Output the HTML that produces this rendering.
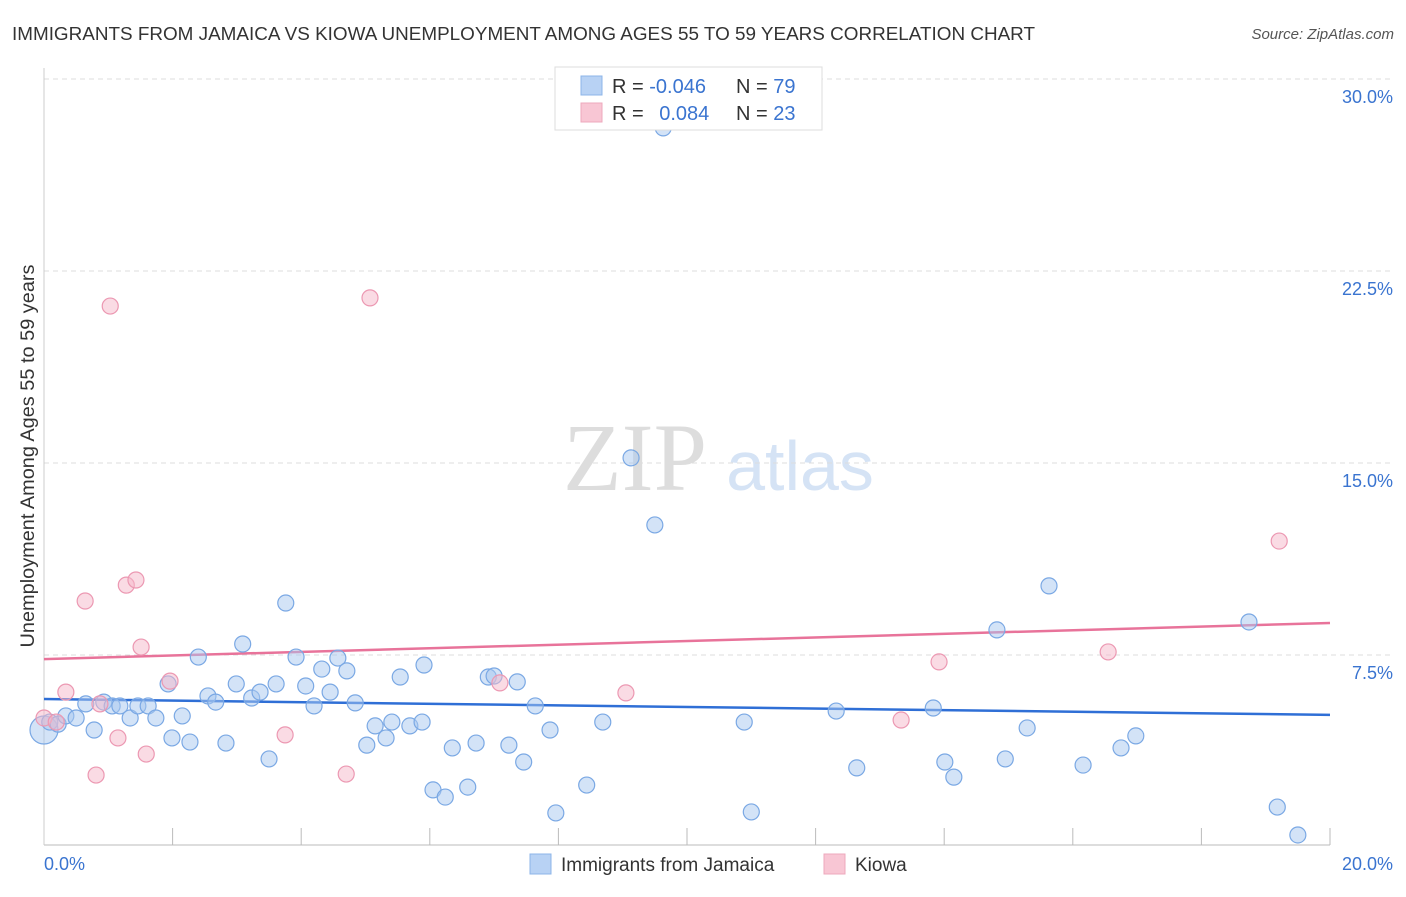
<!DOCTYPE html>
<html><head><meta charset="utf-8"><style>
body{margin:0;background:#fff;font-family:"Liberation Sans",sans-serif;}
svg text{font-family:"Liberation Sans",sans-serif;}
</style></head><body>
<svg id="c" width="1406" height="892" xmlns="http://www.w3.org/2000/svg">
<text x="12" y="40" font-size="18.5" fill="#333" textLength="1023" lengthAdjust="spacingAndGlyphs">IMMIGRANTS FROM JAMAICA VS KIOWA UNEMPLOYMENT AMONG AGES 55 TO 59 YEARS CORRELATION CHART</text>
<text x="1394" y="39" font-size="15" fill="#555" font-style="italic" text-anchor="end">Source: ZipAtlas.com</text>
<text x="34" y="456" font-size="19.5" fill="#333" text-anchor="middle" textLength="383" lengthAdjust="spacingAndGlyphs" transform="rotate(-90 34 456)">Unemployment Among Ages 55 to 59 years</text>
<g><text x="635" y="490" font-size="96" fill="#ddd" text-anchor="middle" style="font-family:'Liberation Serif',serif">ZIP</text><text x="800" y="490" font-size="70" fill="#d5e3f5" text-anchor="middle">atlas</text></g>
<g id="grid"></g><g id="axes"></g><g id="lines"></g><g id="pts"></g>
<g>
<rect x="555" y="67" width="267" height="63" fill="#fff" stroke="#ddd"/>
<rect x="581" y="76" width="21" height="19" fill="#b8d2f4" stroke="#8cb4e8"/>
<rect x="581" y="103" width="21" height="19" fill="#f8c6d4" stroke="#eea8bc"/>
<text x="612" y="93" font-size="20" fill="#333">R = <tspan fill="#3a74d0">-0.046</tspan></text>
<text x="736" y="93" font-size="20" fill="#333">N = <tspan fill="#3a74d0">79</tspan></text>
<text x="612" y="120" font-size="20" fill="#333">R = <tspan fill="#3a74d0" dx="10">0.084</tspan></text>
<text x="736" y="120" font-size="20" fill="#333">N = <tspan fill="#3a74d0">23</tspan></text>
</g>
<g>
<rect x="530" y="854" width="21" height="20" fill="#b8d2f4" stroke="#8cb4e8"/>
<text x="561" y="871" font-size="19" fill="#333">Immigrants from Jamaica</text>
<rect x="824" y="854" width="21" height="20" fill="#f8c6d4" stroke="#eea8bc"/>
<text x="855" y="871" font-size="19" fill="#333">Kiowa</text>
</g>
</svg>
<script>
const blueX=[0,0.09,0.22,0.34,0.50,0.65,0.78,0.93,1.06,1.18,1.34,1.46,1.62,1.74,1.93,1.99,2.15,2.27,2.40,2.55,2.67,2.83,2.99,3.09,3.23,3.36,3.50,3.61,3.76,3.92,4.07,4.20,4.32,4.45,4.57,4.71,4.84,5.02,5.15,5.32,5.41,5.54,5.69,5.88,5.91,6.05,6.24,6.35,6.59,6.72,6.91,7.00,7.23,7.36,7.46,7.64,7.87,7.96,8.44,8.69,9.13,9.50,9.63,10.89,11.00,12.32,12.64,13.83,14.01,14.15,14.82,14.95,15.29,15.63,16.16,16.75,16.98,18.74,19.18,19.50];
const blueY=[4.57,4.88,4.80,5.12,5.04,5.59,4.57,5.66,5.51,5.51,5.04,5.51,5.51,5.04,6.37,4.26,5.12,4.10,7.42,5.90,5.66,4.06,6.37,7.93,5.82,6.05,3.44,6.37,9.53,7.42,6.29,5.51,6.95,6.05,7.38,6.88,5.63,3.98,4.73,4.26,4.88,6.64,4.73,4.88,7.11,2.23,1.95,3.87,2.34,4.06,6.64,6.68,3.98,6.45,3.32,5.51,4.57,1.33,2.42,4.88,15.2,12.58,28.09,4.88,1.37,5.31,3.09,5.43,3.32,2.73,8.48,3.44,4.65,10.20,3.20,3.87,4.34,8.79,1.56,0.47];
const pinkX=[0,0.19,0.34,0.64,0.81,0.87,1.03,1.15,1.28,1.43,1.51,1.59,1.96,3.75,4.70,5.07,7.09,9.05,13.33,13.92,16.55,19.21];
const pinkY=[5.04,4.88,6.05,9.61,2.81,5.59,21.13,4.26,10.23,10.43,7.81,3.63,6.48,4.38,2.85,21.45,6.41,6.02,4.96,7.23,7.62,11.95];
const blueTrend=[5.78,5.16];
const pinkTrend=[7.34,8.75];
const yTicks=[7.5,15,22.5,30];
const yTickLabels=["7.5%","15.0%","22.5%","30.0%"];
const xTickLabels=["0.0%","20.0%"];
const NS="http://www.w3.org/2000/svg";
const X=v=>44+v/20*1286, Y=v=>847-v/7.5*192;
function mk(t,a,p){const e=document.createElementNS(NS,t);for(const k in a)e.setAttribute(k,a[k]);document.getElementById(p).appendChild(e);return e;}
yTicks.forEach((t,i)=>{
 const l=mk('line',{x1:44,x2:1392,y1:Y(t),y2:Y(t),stroke:'#ddd','stroke-dasharray':'5,4'},'grid');
 
 
 const tx=mk('text',{x:1393,y:Y(t)+24,'font-size':18,fill:'#3a74d0','text-anchor':'end'},'grid');
 tx.textContent=yTickLabels[i];
 
 
});
let ax=mk('line',{x1:44,x2:1330,y1:845,y2:845,stroke:'#bbb'},'axes');


let ay=mk('line',{x1:44,x2:44,y1:68,y2:845,stroke:'#ccc'},'axes');


for(let i=1;i<=10;i++){const t=mk('line',{x1:X(i*2),x2:X(i*2),y1:828,y2:845,stroke:'#bbb'},'axes');
 
 }
[[0,'start',44],[20,'end',1393]].forEach((d,i)=>{const t=mk('text',{x:d[2],y:870,'font-size':18,fill:'#3a74d0','text-anchor':d[1]},'axes');t.textContent=xTickLabels[i];
 
 });
const bl=mk('line',{x1:X(0),x2:X(20),y1:Y(blueTrend[0]),y2:Y(blueTrend[1]),stroke:'#2f6fd6','stroke-width':2.5},'lines');


const pl=mk('line',{x1:X(0),x2:X(20),y1:Y(pinkTrend[0]),y2:Y(pinkTrend[1]),stroke:'#e8739a','stroke-width':2.5},'lines');


blueX.forEach((x,i)=>{const c=mk('circle',{cx:X(x),cy:Y(blueY[i]),r:i==0?14:8,fill:'rgba(168,200,240,0.5)',stroke:'#7aa8e4','stroke-width':1.2},'pts');
 
 });
pinkX.forEach((x,i)=>{const c=mk('circle',{cx:X(x),cy:Y(pinkY[i]),r:8,fill:'rgba(246,184,202,0.5)',stroke:'#ec98b2','stroke-width':1.2},'pts');
 
 });
</script>
</body></html>
